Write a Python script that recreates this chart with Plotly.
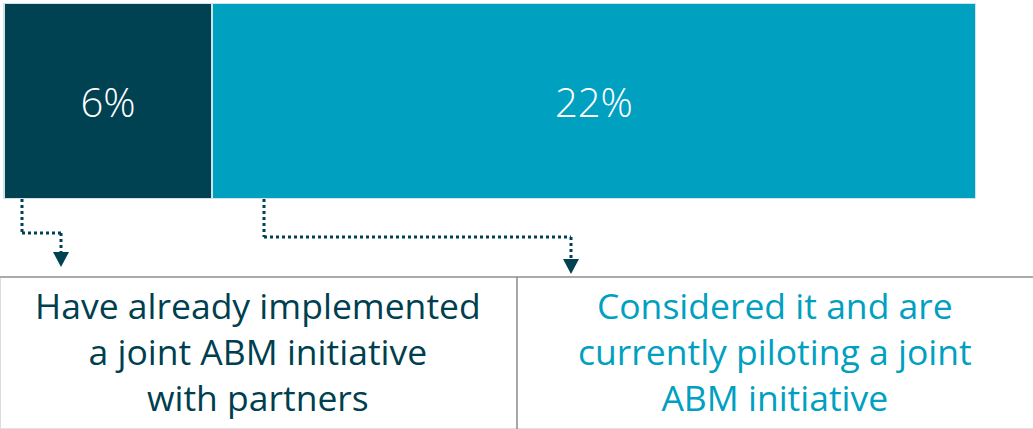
import plotly.graph_objects as go

categories = ["Have already implemented<br>a joint ABM initiative<br>with partners",
              "Considered it and are<br>currently piloting a joint<br>ABM initiative"]
values = [6, 22]
labels = ["6%", "22%"]
colors = ["#004152", "#00A0C0"]

W, H = 1033, 429
FONT = "Open Sans"

fig = go.Figure()
for cat, v, lab, col in zip(categories, values, labels, colors):
    fig.add_trace(go.Bar(
        x=[v], y=[0], orientation="h", name=cat,
        marker=dict(color=col, line=dict(color="#cfe3e8", width=1.5)),
        text=[lab], textposition="inside", insidetextanchor="middle",
        textfont=dict(color="white", size=40, family=FONT, weight=300),
        width=1, hoverinfo="skip",
    ))

ppu = 34.7  # pixels per percent
x0 = -4 / ppu
x1 = x0 + W / ppu

fig.update_layout(
    barmode="stack", showlegend=False,
    width=W, height=H, margin=dict(l=0, r=0, t=0, b=0),
    paper_bgcolor="white", plot_bgcolor="white",
    xaxis=dict(range=[x0, x1], visible=False, fixedrange=True),
    yaxis=dict(range=[-0.5, 0.5], domain=[1 - 199 / H, 1 - 3 / H], visible=False, fixedrange=True),
    uniformtext=dict(mode=False),
)

def px(x):
    return x / W

def py(y):
    return 1 - y / H

dot_col = "#004152"
arrows = [
    [(22, 199), (22, 233), (61, 233), (61, 254)],
    [(264, 199), (264, 237), (571, 237), (571, 261)],
]
heads = [(61, 252, 267), (571, 259, 274)]
for pts in arrows:
    for (ax, ay), (bx, by) in zip(pts[:-1], pts[1:]):
        fig.add_shape(type="line", xref="paper", yref="paper",
                      x0=px(ax), y0=py(ay), x1=px(bx), y1=py(by),
                      line=dict(color=dot_col, width=3, dash="dot"))
for cx, top, bot in heads:
    path = f"M {px(cx-8)} {py(top)} L {px(cx+8)} {py(top)} L {px(cx)} {py(bot)} Z"
    fig.add_shape(type="path", xref="paper", yref="paper", path=path,
                  fillcolor=dot_col, line=dict(width=0))

# table borders: light left and bottom, grey top, divider
fig.add_shape(type="line", xref="paper", yref="paper",
              x0=px(0.5), y0=py(277), x1=px(0.5), y1=py(428.5),
              line=dict(color="#dcdcdc", width=1))
fig.add_shape(type="line", xref="paper", yref="paper",
              x0=0, y0=py(428.5), x1=1, y1=py(428.5),
              line=dict(color="#e0e0e0", width=1))
fig.add_shape(type="line", xref="paper", yref="paper",
              x0=0, y0=py(277), x1=1, y1=py(277),
              line=dict(color="#aaaaaa", width=2))
fig.add_shape(type="line", xref="paper", yref="paper",
              x0=px(517), y0=py(277), x1=px(517), y1=0,
              line=dict(color="#8a8a8a", width=1.5))

text_cols = ["#003F4F", "#00A0C0"]
centers = [258, 775]
for cat, cx, tc in zip(categories, centers, text_cols):
    fig.add_annotation(xref="paper", yref="paper", x=px(cx), y=py(351),
                       text=cat, showarrow=False, xanchor="center", yanchor="middle",
                       align="center",
                       font=dict(family=FONT, size=35.5, color=tc))

fig.write_html("out.html", config={"displayModeBar": False, "staticPlot": True},
               post_script="document.body.style.margin='0';document.body.style.overflow='hidden';")
